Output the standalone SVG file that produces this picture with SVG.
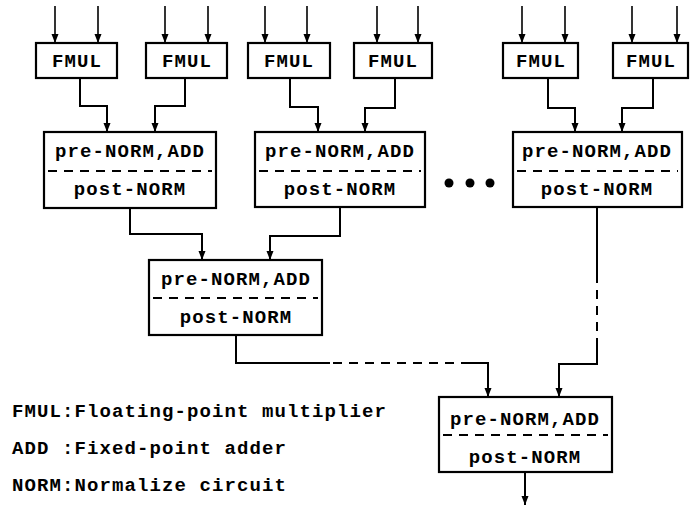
<svg xmlns="http://www.w3.org/2000/svg" width="690" height="509" viewBox="0 0 690 509">
<defs>
<marker id="ah" markerUnits="userSpaceOnUse" markerWidth="9" markerHeight="8" refX="9" refY="4" orient="auto" viewBox="0 0 9 8">
<path d="M0,0.5 L0,7.5 L9,4 Z" fill="#000"/>
</marker>
<style>
.box{fill:#fff;stroke:#000;stroke-width:2.2}
.sep{stroke:#000;stroke-width:2;stroke-dasharray:9 7}
.t{font-family:"Liberation Mono","DejaVu Sans Mono",monospace;font-weight:bold;font-size:19px;letter-spacing:1.1px;fill:#000}
.c{text-anchor:middle}
.w{fill:none;stroke:#000;stroke-width:2}
.in{fill:none;stroke:#000;stroke-width:1.6;marker-end:url(#ah)}
.a{marker-end:url(#ah)}
.d{stroke-dasharray:9 7}
</style>
</defs>
<rect width="690" height="509" fill="#fff"/>
<g id="connectors">
<path class="in" d="M55,6V43"/><path class="in" d="M98,6V43"/>
<path class="in" d="M165,6V43"/><path class="in" d="M208,6V43"/>
<path class="in" d="M265,6V43"/><path class="in" d="M307,6V43"/>
<path class="in" d="M377,6V43"/><path class="in" d="M418,6V43"/>
<path class="in" d="M522,6V43"/><path class="in" d="M565,6V43"/>
<path class="in" d="M632,6V43"/><path class="in" d="M677,6V43"/>
<path class="w a" d="M80,78V106H107V132"/>
<path class="w a" d="M185,78V106H155V132"/>
<path class="w a" d="M290,78V107H318V132"/>
<path class="w a" d="M395,78V108H365V132"/>
<path class="w a" d="M548,78V108H575V132"/>
<path class="w a" d="M653,78V108H622V132"/>
<path class="w a" d="M130,208V234H202V260"/>
<path class="w a" d="M340,207V236H270V260"/>
<path class="w" d="M236,335V363H330"/>
<path class="w d" d="M333,363H462"/>
<path class="w a" d="M462,363H488V397"/>
<path class="w" d="M597,207V283"/>
<path class="w d" d="M597,290V345"/>
<path class="w a" d="M597,345V364H559V397"/>
<path class="w a" d="M525,472V505"/>
</g>
<g id="fmul1"><rect class="box" x="36" y="43" width="81" height="35"/><text class="t c" x="77" y="67">FMUL</text></g>
<g id="fmul2"><rect class="box" x="146" y="43" width="81" height="35"/><text class="t c" x="187" y="67">FMUL</text></g>
<g id="fmul3"><rect class="box" x="248" y="43" width="82" height="35"/><text class="t c" x="289" y="67">FMUL</text></g>
<g id="fmul4"><rect class="box" x="354" y="43" width="78" height="35"/><text class="t c" x="393" y="67">FMUL</text></g>
<g id="fmul5"><rect class="box" x="503" y="43" width="75" height="35"/><text class="t c" x="541" y="67">FMUL</text></g>
<g id="fmul6"><rect class="box" x="613" y="43" width="75" height="35"/><text class="t c" x="651" y="67">FMUL</text></g>
<g id="add1"><rect class="box" x="44" y="132" width="172" height="76"/><line class="sep" x1="48" y1="171" x2="212" y2="171"/><text class="t c" x="130" y="157">pre-NORM,ADD</text><text class="t c" x="130" y="195">post-NORM</text></g>
<g id="add2"><rect class="box" x="255" y="132" width="170" height="75"/><line class="sep" x1="259" y1="171" x2="421" y2="171"/><text class="t c" x="340" y="157">pre-NORM,ADD</text><text class="t c" x="340" y="195">post-NORM</text></g>
<g id="ellipsis"><circle cx="449" cy="183" r="4.5"/><circle cx="470" cy="183" r="4.5"/><circle cx="490" cy="183" r="4.5"/></g>
<g id="add3"><rect class="box" x="513" y="132" width="169" height="75"/><line class="sep" x1="517" y1="171" x2="678" y2="171"/><text class="t c" x="597" y="157">pre-NORM,ADD</text><text class="t c" x="597" y="195">post-NORM</text></g>
<g id="add4"><rect class="box" x="149" y="260" width="173" height="75"/><line class="sep" x1="153" y1="298" x2="318" y2="298"/><text class="t c" x="236" y="285">pre-NORM,ADD</text><text class="t c" x="236" y="323">post-NORM</text></g>
<g id="add5"><rect class="box" x="439" y="397" width="173" height="75"/><line class="sep" x1="443" y1="435" x2="608" y2="435"/><text class="t c" x="525" y="425">pre-NORM,ADD</text><text class="t c" x="525" y="463">post-NORM</text></g>
<g id="legend">
<text class="t" x="12" y="417">FMUL:Floating-point multiplier</text>
<text class="t" x="12" y="454">ADD :Fixed-point adder</text>
<text class="t" x="12" y="491">NORM:Normalize circuit</text>
</g>
</svg>
